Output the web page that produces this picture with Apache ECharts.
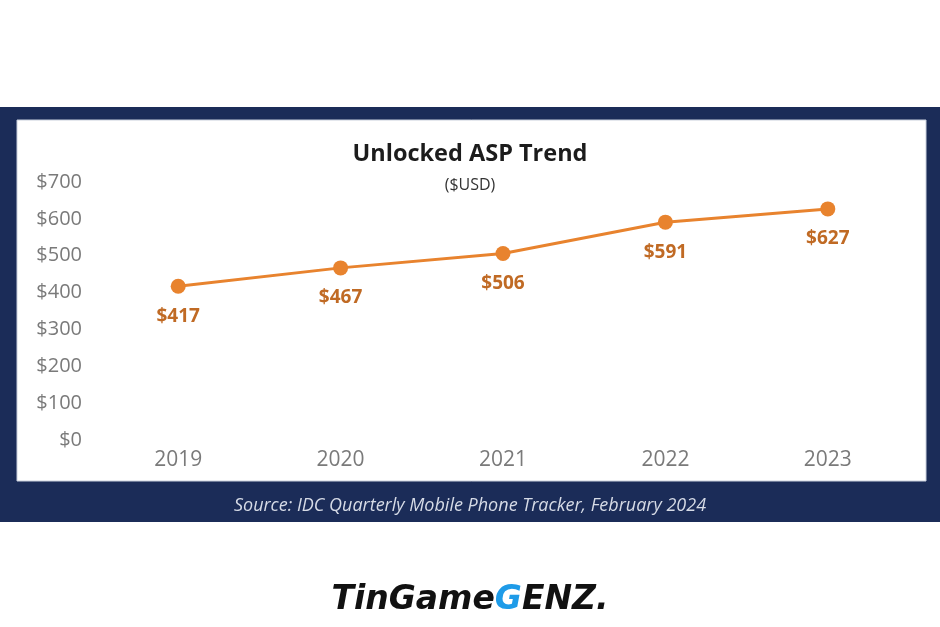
<!DOCTYPE html>
<html><head><meta charset="utf-8">
<script src="https://cdn.jsdelivr.net/npm/echarts@6/dist/echarts.min.js"></script>
<style>html,body{margin:0;padding:0;background:#fff}#c{width:940px;height:627px}</style>
</head><body><div id="c"></div>
<script>
const years = ['2019', '2020', '2021', '2022', '2023'];
const aspValues = [417, 467, 506, 591, 627];
const yTicks = [0, 100, 200, 300, 400, 500, 600, 700];
const titleText = 'Unlocked ASP Trend';
const subtitleText = '($USD)';
const sourceText = 'Source: IDC Quarterly Mobile Phone Tracker, February 2024';

const chart = echarts.init(document.getElementById('c'));
chart.setOption({
  backgroundColor: '#ffffff',
  animation: false,
  title: [
    { text: titleText, left: 'center', top: 137, textStyle: { fontFamily: 'Open Sans', fontWeight: 'bold', fontSize: 23.5, color: '#1c1c1c' } },
    { text: subtitleText, left: 'center', top: 172, textStyle: { fontFamily: 'Open Sans', fontWeight: 'normal', fontSize: 16, color: '#333' } }
  ],
  graphic: [
    { type: 'rect', z: -10, shape: { x: 0, y: 107, width: 940, height: 415 }, style: { fill: '#1b2c58' } },
    { type: 'rect', z: -9, shape: { x: 17, y: 120, width: 909, height: 361 }, style: { fill: '#ffffff', stroke: '#c9cfdc', lineWidth: 1 } },
    { type: 'text', left: 'center', top: 497, style: { text: sourceText, font: 'italic 18px "Open Sans"', fill: '#d6dbe6' } },
    { type: 'text', left: 'center', top: 584, style: {
        text: '{a|TinGame}{b|G}{a|ENZ.}',
        rich: {
          a: { fontFamily: 'DejaVu Sans', fontStyle: 'italic', fontWeight: 'bold', fontSize: 33, fill: '#111', color: '#111' },
          b: { fontFamily: 'DejaVu Sans', fontStyle: 'italic', fontWeight: 'bold', fontSize: 33, fill: '#1e9be8', color: '#1e9be8' }
        }
      } }
  ],
  grid: { left: 97, right: 31, top: 182, bottom: 187 },
  xAxis: {
    type: 'category', data: years, boundaryGap: true,
    axisLine: { show: false }, axisTick: { show: false },
    axisLabel: { color: '#7a7a7a', fontFamily: 'Open Sans', fontSize: 21, margin: 10 }
  },
  yAxis: {
    type: 'value', min: 0, max: 700, interval: 100,
    splitLine: { show: false }, axisLine: { show: false }, axisTick: { show: false },
    axisLabel: { color: '#7a7a7a', fontFamily: 'Open Sans', fontSize: 20, margin: 15,
      formatter: v => yTicks.includes(v) ? '$' + v : '' }
  },
  series: [{
    type: 'line', data: aspValues,
    symbol: 'circle', symbolSize: 15,
    lineStyle: { color: '#e8832e', width: 3 },
    itemStyle: { color: '#e8832e' },
    label: { show: true, position: 'bottom', distance: 13, formatter: p => '$' + p.value,
      color: '#c06a24', fontFamily: 'Open Sans', fontWeight: 'bold', fontSize: 19 }
  }]
});
</script></body></html>
